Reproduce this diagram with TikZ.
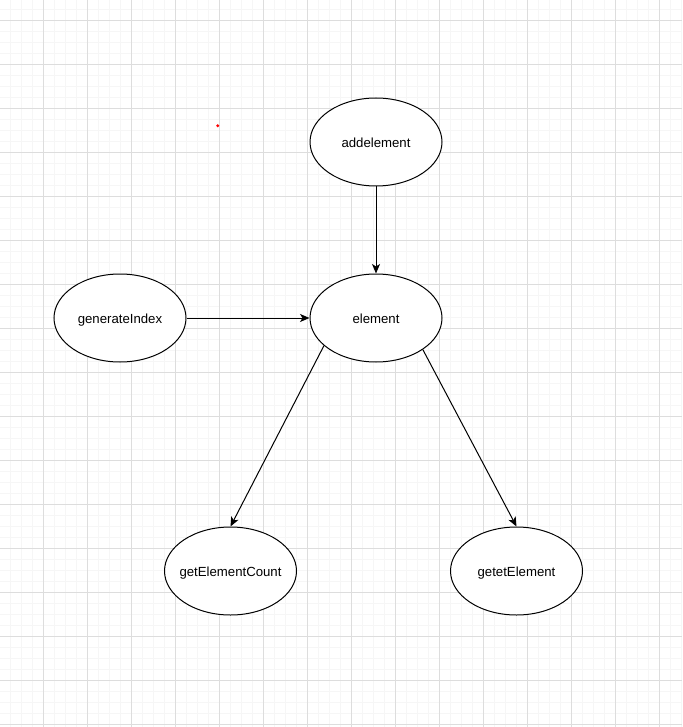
\documentclass[tikz,border=0pt]{standalone}
\usepackage{fontspec}
\setmainfont{Liberation Sans}
\usetikzlibrary{shapes.geometric,arrows.meta}
\definecolor{minorgrid}{HTML}{F6F6F6}
\definecolor{majorgrid}{HTML}{DDDDDD}
% centred label that does not widen its shape
\newcommand{\ovaltext}[1]{\raisebox{-5.3pt}[0pt][0pt]{\makebox[0pt][c]{#1}}}
\begin{document}
\begin{tikzpicture}[x=1pt,y=-1pt,
  oval/.style={ellipse,draw=black,line width=1pt,fill=white,
    minimum width=132pt,minimum height=88pt,inner sep=0pt,
    font=\fontsize{13.2pt}{15pt}\selectfont},
  link/.style={draw=black,line width=1pt,
    -{Stealth[length=9.5pt,width=8pt,inset=2.5pt]}}]
  % page and background
  \useasboundingbox (0,0) rectangle (682,727);
  \fill[white] (0,0) rectangle (682,727);
  % fine grid
  \foreach \k in {0,...,62} {
    \draw[minorgrid,line width=1pt] ({-0.7+11*\k},0) -- ({-0.7+11*\k},727);
  }
  \foreach \k in {0,...,66} {
    \draw[minorgrid,line width=1pt] (0,{-1.7+11*\k}) -- (682,{-1.7+11*\k});
  }
  % coarse grid
  \foreach \k in {0,...,15} {
    \draw[majorgrid,line width=1pt] ({-0.7+44*\k},0) -- ({-0.7+44*\k},727);
  }
  \foreach \k in {0,...,16} {
    \draw[majorgrid,line width=1pt] (0,{20.3+44*\k}) -- (682,{20.3+44*\k});
  }
  % small red marker
  \fill[red] (217.7,125.7) circle (1.6pt);
  % nodes
  \node[oval] (add) at (376,142) {\ovaltext{addelement}};
  \node[oval] (elem) at (376,318) {\ovaltext{element}};
  \node[oval] (gen) at (120,318) {\ovaltext{generateIndex}};
  \node[oval] (count) at (230.5,571) {\ovaltext{getElementCount}};
  \node[oval] (get) at (516.5,571) {\ovaltext{getetElement}};
  % connectors
  \draw[link] (add.south) -- (elem.north);
  \draw[link] (gen.east) -- (elem.west);
  \draw[link] (elem.208) -- (count.north);
  \draw[link] (elem.326) -- (get.north);
\end{tikzpicture}
\end{document}
